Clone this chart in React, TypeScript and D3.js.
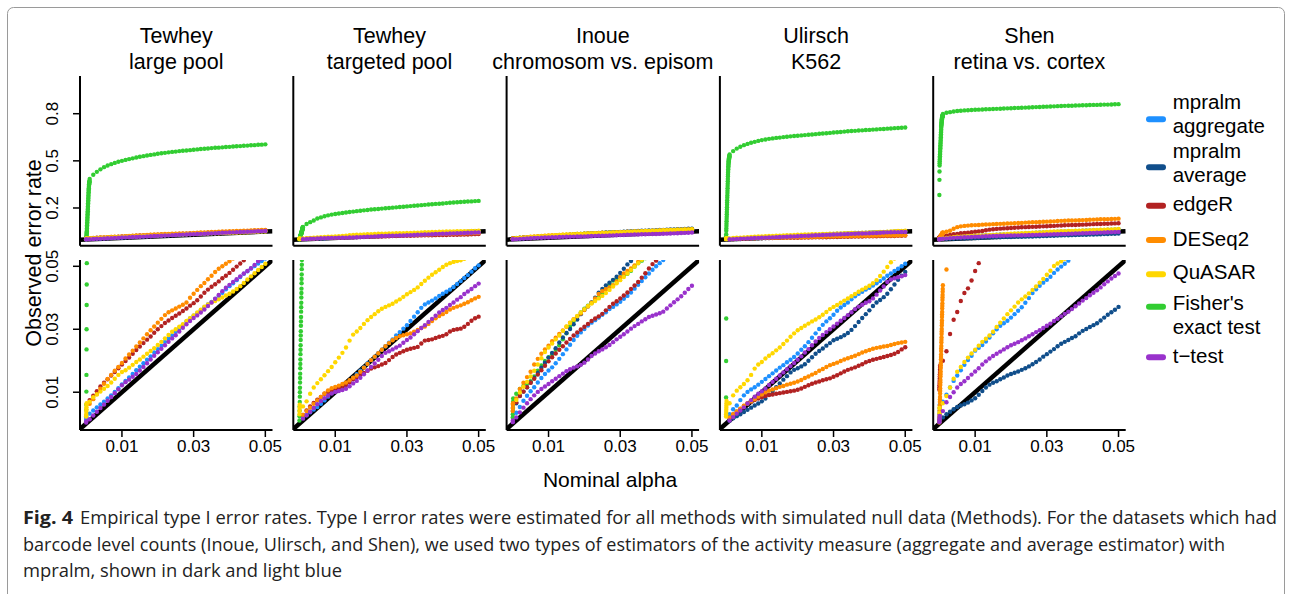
import React from "react";
import * as d3 from "d3";

// ---------- shared grids (nominal alpha) ----------
const alphaLow = [0.00002, 0.00004, 0.00006, 0.00008, 0.0001, 0.00012, 0.00014, 0.00016, 0.00018, 0.0002, 0.00022, 0.00024, 0.00026, 0.00028, 0.0003, 0.00032, 0.00034, 0.00036, 0.00038, 0.0004, 0.00042, 0.00044, 0.00046, 0.00048, 0.0005, 0.00052, 0.00054, 0.00056, 0.00058, 0.0006, 0.00062, 0.00064, 0.00066, 0.00068, 0.0007, 0.00072, 0.00074, 0.00076, 0.00078, 0.0008, 0.00082, 0.00084, 0.00086, 0.00088, 0.0009, 0.00092, 0.00094, 0.00096];
const alphaMain = [0.001, 0.002, 0.003, 0.004, 0.005, 0.006, 0.007, 0.008, 0.009, 0.01, 0.011, 0.012, 0.013, 0.014, 0.015, 0.016, 0.017, 0.018, 0.019, 0.02, 0.021, 0.022, 0.023, 0.024, 0.025, 0.026, 0.027, 0.028, 0.029, 0.03, 0.031, 0.032, 0.033, 0.034, 0.035, 0.036, 0.037, 0.038, 0.039, 0.04, 0.041, 0.042, 0.043, 0.044, 0.045, 0.046, 0.047, 0.048, 0.049, 0.05];

// ---------- observed error rates, in units of 1/1000 ----------
// Tewhey large pool
const tlAgg = [3.2,4.2,5.2,6.1,7.0,8.0,9.0,10.1,11.3,12.5,13.6,14.7,15.8,17.0,18.1,19.2,20.3,21.4,22.6,23.7,24.8,26.0,27.1,28.1,29.2,30.3,31.3,32.4,33.4,34.3,35.1,36.0,37.0,37.9,38.7,39.6,40.6,41.6,42.7,43.7,44.6,45.6,46.6,47.6,48.4,49.3,50.1,50.9,51.7,52.5];
const tlAggLow = [1.2, 2.0];
const tlEdgeR = [7.5,8.9,10.3,11.8,13.0,14.1,15.3,16.4,17.6,18.8,19.9,21.0,22.2,23.4,24.5,25.6,26.7,27.7,28.9,30.0,31.0,32.0,32.8,33.6,34.3,35.0,35.8,36.6,37.5,38.3,39.2,40.4,41.6,42.6,43.5,44.3,45.2,46.2,47.0,47.9,48.9,49.9,50.9,51.9,52.8,53.8,54.7,55.6,56.5,57.3];
const tlDESeq2 = [6.3,7.8,9.4,11.1,12.7,14.2,15.5,16.8,18.0,19.3,20.7,22.0,23.2,24.5,25.8,27.1,28.4,29.7,30.9,32.1,33.3,34.5,35.4,36.0,36.6,37.2,37.8,38.5,40.0,41.3,42.5,43.7,44.7,45.9,47.0,48.2,49.2,50.0,50.8,51.6,52.5,53.4,54.3,55.2,56.1,57.0,57.9,58.8,59.6,60.4];
const tlQuASAR = [7.0,8.4,9.3,10.2,11.1,12.0,13.1,14.3,15.5,16.4,17.0,17.8,18.7,19.6,20.4,21.3,22.2,23.1,24.0,25.0,26.0,27.1,28.2,29.2,30.0,30.8,31.6,32.6,33.5,34.4,35.3,36.2,37.2,37.9,38.5,39.0,39.5,40.1,40.7,41.3,42.0,42.8,43.7,44.7,45.8,46.8,47.8,48.8,49.8,50.8];
const tlQuASARLow = [2.3,3.0,3.8,4.5,5.2,6.0,6.5];
const tlFisher = [385,412,430,446,460,470,479,487,494,500,506,511,516,521,526,530,534,538,541,545,548,551,554,557,559,562,564,566,568,571,573,575,577,579,581,583,584,586,588,589,591,593,594,596,597,599,600,602,603,605];
const tlFisherLow = [2.3,4.4,6,10.2,15.5,23.6,30,37.7,44.2,51,60,70,80,90,100,110,120,130,140,150,160,170,180,190,200,210,220,230,240,250,260,270,280,290,300,310,318,326,333,340,346,351,355,359,363,366,369,372];
const tlTtest = [1.4,2.6,3.8,5.0,6.1,7.3,8.5,9.7,10.9,12.2,13.2,14.0,14.9,15.8,16.9,18.0,19.2,20.4,21.6,22.7,23.8,24.9,26.0,27.1,28.1,29.3,30.5,31.6,32.6,33.6,34.4,35.3,36.3,37.4,38.5,39.7,40.9,42.1,43.2,44.1,45.0,45.9,46.8,47.7,48.5,49.4,50.4,51.6,52.5,53.4];
const tlTtestLow = [0.4, 0.8];

// Tewhey targeted pool
const ttAgg = [1.8,2.7,3.6,4.5,5.3,6.3,7.4,8.6,9.7,10.3,10.9,11.5,12.2,13.4,14.6,15.7,16.8,17.9,19.1,20.2,21.3,22.4,23.5,24.6,25.7,26.8,28.0,29.1,30.2,31.3,32.6,34.0,35.4,36.8,37.9,38.5,39.1,39.8,40.6,41.3,41.9,42.6,43.4,44.4,45.3,46.3,47.2,48.3,49.4,50.3];
const ttEdgeR = [2.8,4.2,5.5,6.6,7.6,8.5,9.5,10.1,10.5,10.9,11.2,11.6,12.3,13.2,14.1,14.8,15.5,16.1,16.8,17.5,17.9,18.3,18.8,19.3,20.2,21.2,22.0,22.5,23.0,23.5,23.8,24.1,24.4,25.5,26.4,26.6,26.8,27.2,27.6,27.9,28.4,29.3,29.8,30.0,30.2,30.8,31.7,32.7,33.5,34.0];
const ttDESeq2 = [2.8,4.0,5.1,6.3,7.4,8.5,9.6,10.6,11.3,11.7,12.1,12.6,13.1,13.8,14.6,15.3,16.5,17.8,19.0,20.2,21.3,22.4,23.5,24.6,25.6,26.5,27.2,27.8,28.1,28.4,28.7,29.2,29.8,30.4,30.9,31.7,32.6,33.5,34.2,34.8,35.5,36.3,36.8,37.2,37.6,38.1,38.6,39.2,39.8,40.3];
const ttQuASAR = [5.5,7.1,9.5,11.5,12.9,14.1,15.4,16.7,18.0,19.5,21.0,22.5,24.2,26.4,28.3,29.3,30.4,31.7,32.9,33.9,34.8,35.7,36.5,37.1,37.6,38.1,38.8,39.5,40.3,41.1,41.8,42.5,43.3,44.4,45.4,46.4,47.3,48.1,48.9,49.8,50.5,51.0,51.4,51.7,51.9,52.4,53.0,53.7,54.4,55.0];
const ttQuASARLow = [3, 4, 5, 6];
const ttFisher = [80,98,110,120,133,140,147,153,158,162,165,168,171,174,177,180,182,185,187,190,192,194,196,198,200,202,204,206,208,210,212,214,216,218,220,222,224,226,227,229,231,233,235,237,238,240,241,242,244,245];
const ttFisherLow = [1,2.4,4.1,5.5,6.9,8.6,10,11.4,13.1,14.5,15.9,17.6,19,20.4,22.1,23.5,24.9,26.6,28,29.4,31.1,32.5,33.9,35.6,37,38.4,40.1,41.5,42.9,44.6,46,47.4,49.1,50.5,52,54,56,58,60,62,64,66,68,70,72,74,76,78];
const ttTtest = [1.6,2.7,3.8,5.0,6.2,7.2,8.1,8.9,9.6,10.1,10.4,10.7,11.1,11.9,12.8,13.6,14.6,15.7,16.9,18.0,19.1,20.3,21.5,22.5,23.0,23.6,24.2,24.8,25.7,26.6,27.4,28.4,29.4,30.4,31.3,32.3,33.3,34.3,35.3,36.1,36.8,37.7,38.5,39.4,40.2,41.2,42.0,42.8,43.7,44.5];

// Inoue chromosomal vs episomal
const inAgg = [3.5,5.3,7.3,8.9,10.3,11.6,13.1,14.5,15.8,16.9,17.9,19.2,20.6,22.1,23.6,25.1,26.6,27.9,29.0,30.1,31.2,32.1,32.9,33.7,34.6,35.4,36.4,37.1,37.9,38.7,39.7,40.6,41.7,42.9,44.1,45.3,46.5,47.7,48.9,50.0,51.0,52.0,52.9,53.8,54.7,55.6,56.5,57.4,58.2,59.0];
const inAvg = [6.5,8.8,10.2,11.6,13.1,14.6,16.2,17.8,19.4,21.0,22.5,24.0,25.8,27.4,28.8,30.1,31.6,33.1,34.8,36.2,37.3,38.5,40.0,41.6,42.8,43.9,44.8,45.7,46.7,47.9,49.2,50.6,51.7,52.8,53.8,54.8,55.8,56.8,57.8,58.8,59.8,60.8,61.8,62.8,63.8,64.8,65.8,66.8,67.8,68.8];
const inEdgeR = [6.8,8.9,10.2,11.6,13.0,14.3,15.6,17.0,18.4,19.8,21.1,22.3,23.5,24.6,25.8,26.9,28.0,29.0,29.9,30.8,31.7,32.6,33.4,34.1,34.9,36.0,37.1,38.1,38.9,39.8,40.7,41.7,42.8,43.9,45.0,46.4,47.8,49.3,50.7,51.8,52.8,53.8,54.8,55.8,56.7,57.6,58.5,59.4,60.3,61.2];
const inDESeq2 = [8.0,11.0,13.0,14.8,16.5,18.8,20.6,22.2,23.6,24.8,26.2,27.3,28.5,29.6,30.8,32.1,33.2,34.1,35.0,36.1,37.2,38.4,39.8,41.2,42.1,42.7,43.3,44.0,45.2,46.5,47.7,48.5,49.3,50.3,51.4,52.5,53.5,54.4,55.3,56.2,57.1,58.0,58.9,59.8,60.6,61.4,62.2,63.0,63.8,64.6];
const inDESeq2Low = [4, 5, 6, 6.5];
const inQuASAR = [7.5,9.9,11.7,13.3,15.0,16.8,18.8,20.8,22.8,24.2,25.5,26.8,28.0,29.5,30.9,32.0,33.1,34.2,35.3,36.4,37.4,38.2,39.0,39.8,40.6,41.5,42.5,43.6,44.6,45.6,46.6,47.7,48.8,49.9,51.0,52.1,53.1,54.1,55.1,56.1,57.0,57.9,58.8,59.7,60.6,61.5,62.4,63.3,64.2,65.1];
const inFisher = [9.5,11.0,12.0,12.8,13.5,15.0,16.8,18.5,19.9,21.1,22.1,23.5,24.9,26.8,28.7,30.8,32.6,34.0,35.3,36.5,37.5,38.4,39.3,40.1,41.3,42.8,44.3,45.5,46.1,46.6,47.1,47.6,48.6,49.9,51.0,51.8,52.6,53.4,54.3,55.2,56.1,57.1,58.1,59.1,60.1,61.2,62.4,63.7,65.0,66.5];
const inFisherLow = [2, 3, 4, 5, 6, 7, 8];
const inTtest = [2.0,3.6,5.1,6.5,7.8,9.0,10.1,11.0,11.8,12.6,13.5,14.3,15.1,15.9,16.7,17.3,17.8,18.2,18.7,19.4,20.4,21.5,22.3,23.0,23.6,24.3,25.0,25.9,26.8,27.6,28.4,29.3,30.2,31.0,31.7,32.5,33.2,33.9,34.3,34.7,35.1,35.6,36.6,37.6,38.6,39.5,40.5,41.6,42.8,43.8];
const inTtestLow = [0.5, 1];

// Ulirsch K562
const ulAgg = [3.0,4.6,5.8,7.5,9.0,10.1,10.9,11.6,12.4,13.3,14.2,15.1,16.0,16.9,17.8,18.6,19.5,20.3,21.2,22.3,23.5,24.6,25.9,27.3,28.7,30.1,31.4,32.5,33.5,34.6,35.9,36.9,37.7,38.5,39.5,40.5,41.3,41.9,42.6,43.2,43.9,44.6,45.3,46.1,47.0,47.7,48.5,49.2,50.0,50.8];
const ulAvg = [0.9,1.7,2.4,3.0,3.7,4.4,5.1,5.8,6.4,7.1,8.0,9.2,10.4,11.6,12.8,14.0,15.1,16.3,17.1,17.6,18.2,18.9,20.0,21.1,22.2,23.1,23.9,24.8,25.6,26.5,27.0,27.5,28.1,28.8,29.8,31.0,32.3,33.6,34.8,36.0,37.4,38.5,39.3,40.2,41.3,42.7,44.2,45.7,47.0,48.2];
const ulEdgeR = [1.8,2.9,3.8,4.7,5.6,6.4,7.0,7.5,8.0,8.4,8.8,9.1,9.3,9.5,9.7,9.9,10.1,10.3,10.5,10.8,11.2,11.7,12.2,12.7,13.1,13.4,13.8,14.1,14.4,14.9,15.4,16.0,16.6,17.1,17.5,17.9,18.4,18.9,19.5,19.9,20.3,20.6,20.9,21.2,21.5,21.8,22.2,22.8,23.6,24.3];
const ulDESeq2 = [2.0,3.0,3.9,4.8,5.7,6.4,7.1,7.8,8.6,9.3,10.0,10.5,10.9,11.3,11.7,12.0,12.4,12.7,13.0,13.4,13.9,14.5,15.0,15.6,16.1,16.8,17.4,18.0,18.6,19.0,19.4,19.9,20.4,20.8,21.2,21.6,22.1,22.6,23.0,23.4,23.8,24.1,24.3,24.5,24.7,25.0,25.3,25.6,25.8,26.0];
const ulQuASAR = [6.5,9.0,10.5,11.6,12.6,13.8,15.5,17.5,18.8,19.6,20.7,21.6,22.4,23.3,24.2,25.3,26.4,27.6,28.7,29.7,30.4,31.1,31.8,32.5,33.1,33.8,34.6,35.5,36.4,37.1,37.7,38.4,39.1,39.8,40.5,41.2,41.9,42.6,43.2,43.8,44.6,45.6,46.9,48.3,49.8,51.3,52.5,53.6,54.6,55.6];
const ulQuASARLow = [2.3, 3.0, 3.7, 4.4, 5.1, 5.8, 6.5, 7.2];
const ulFisher = [540,562,578,590,600,608,615,621,627,632,636,640,643,646,648,651,653,656,658,660,662,664,666,668,670,672,674,676,678,680,682,684,686,688,690,691,693,694,696,697,699,700,702,703,705,706,708,709,711,712];
const ulFisherLow = [8.3,19.9,33.4,55,70,85,100,115,130,145,160,175,190,205,220,235,250,265,280,295,310,325,340,355,370,385,400,412,424,436,446,456,465,473,480,486,492,497,502,506,510,514,517,520,523,526,529,532];
const ulTtest = [1.0,2.1,3.2,4.2,5.2,6.4,7.5,8.6,9.5,10.3,11.2,12.3,13.3,14.3,15.3,16.3,17.3,18.3,19.3,20.3,21.4,22.6,23.7,24.9,26.1,27.2,28.2,29.1,30.0,30.9,31.8,32.7,33.6,34.5,35.4,36.4,37.2,37.8,38.4,38.9,39.8,41.0,42.3,43.6,45.0,45.8,46.2,46.5,46.8,47.2];

// Shen retina vs. cortex
const shAgg = [7.0,9.2,11.5,13.6,15.3,17.0,18.7,20.2,21.6,23.2,24.1,25.0,26.1,27.4,28.7,30.0,31.1,31.9,32.7,33.7,34.8,35.9,37.0,38.4,39.9,41.5,42.7,43.8,44.8,45.7,46.7,47.9,49.0,49.9,50.8,51.8,52.7,53.6,54.5,55.4,56.3,57.2,58.1,59.0,59.9,60.8,61.7,62.6,63.5,64.4];
const shAggLow = [1, 2, 3, 4, 5, 6];
const shAvg = [2.0,3.0,3.8,4.6,5.3,5.8,6.2,6.7,7.4,8.1,9.2,10.4,11.5,12.4,13.0,13.5,14.1,14.7,15.3,15.8,16.2,16.6,17.1,17.6,18.2,18.9,19.6,20.4,21.3,22.1,22.9,23.7,24.6,25.4,26.0,26.6,27.2,27.8,28.7,29.5,30.1,30.7,31.3,31.9,32.8,33.7,34.6,35.4,36.2,37.1];
const shAvgLow = [0.5, 1, 1.5];
const shEdgeR = [20,23,28.5,33,35.5,39,41.5,43,45.5,48.5,51,54,58,62,65,67,68.5,70,71.5,73,74,75.5,77,78,79,80,81,82,83,84,85,86,88,89,90,91,91.5,92,93,94,95,96,97,98,98.5,99.5,100,101,102,103];
const shEdgeRLow = [10.8,11.5,12.2,12.9,13.6,14.3,15,15.7,16.4,17.1,17.8,18.5];
const shDESeq2 = [44,49,55,68,78,83,86,88,90,91,92,94,95,96,97,98,99,100,101,102,103,104,105,107,108,109,110,111,112,113,114,115,117,118,119,120,120,121,122,123,124,125,126,127,128,128,129,130,131,132];
const shDESeq2Low = [0.4,1.2,2.3,3.1,4.2,5.0,5.8,6.9,7.7,8.5,9.6,10.4,11.2,12.3,13.1,13.9,15.0,15.8,16.6,17.7,18.5,19.3,20.4,21.2,22.0,23.1,23.9,24.7,25.8,26.6,27.4,28.5,29.3,30.1,31.2,32.0,32.8,33.9,34.7,35.5,36.6,37.4,38.2,39.3,40.1,40.9,41.9,42.8];
const shQuASAR = [6.5,8.8,11.5,14.3,16.5,18.0,19.6,21.0,22.3,23.5,24.8,26.0,27.0,28.0,29.2,30.7,32.1,33.4,34.8,36.0,37.2,38.5,39.5,40.4,41.4,42.5,43.6,44.8,46.0,47.3,48.6,50.1,50.9,51.6,52.4,53.3,54.2,55.1,56.0,56.9,57.8,58.7,59.6,60.5,61.4,62.3,63.2,64.1,65.0,65.9];
const shQuASARLow = [2, 3.5, 5];
const shFisher = [798,806,810,814,817,819,821,822,824,825,826,827,828,829,830,831,832,833,834,835,836,837,838,839,840,841,842,843,844,845,846,847,848,849,850,851,851,852,853,854,854,855,856,856,857,858,858,859,860,861];
const shFisherLow = [283,379,432,470,485,497,509,520,530,540,550,560,570,580,590,600,610,620,630,640,650,660,670,680,690,700,710,718,726,733,740,746,751,756,760,764,767,770,773,776,778,780,782,784,786,788,790,792];
const shTtest = [4.0,6.8,8.5,10.0,11.5,12.6,13.5,14.5,15.6,16.6,17.6,18.8,19.8,20.7,21.5,22.2,22.9,23.6,24.3,24.9,25.4,25.9,26.5,27.1,27.8,28.4,29.1,29.7,30.4,31.1,31.8,32.6,33.3,34.1,34.9,35.6,36.4,37.3,38.2,39.1,39.9,40.8,41.6,42.4,43.3,44.3,45.2,46.1,46.9,47.7];
const shTtestLow = [0.5, 1, 1.5, 2, 2.5];

// ---------- labels ----------
const panelTitles = [
  ["Tewhey", "large pool"],
  ["Tewhey", "targeted pool"],
  ["Inoue", "chromosom vs. episom"],
  ["Ulirsch", "K562"],
  ["Shen", "retina vs. cortex"],
];
const methodKeys = ["agg", "avg", "edgeR", "DESeq2", "QuASAR", "Fisher", "ttest"];
const methodColors = ["#1E90FF", "#104E8B", "#B22222", "#FF8C00", "#FFD700", "#32CD32", "#9932CC"];
const legendLabels = [["mpralm", "aggregate"], ["mpralm", "average"], ["edgeR"], ["DESeq2"], ["QuASAR"], ["Fisher's", "exact test"], ["t\u2212test"]];
const topYTicks = [0.2, 0.5, 0.8];
const topYTickLabels = ["0.2", "0.5", "0.8"];
const botTicks = [0.01, 0.03, 0.05];
const botTickLabels = ["0.01", "0.03", "0.05"];
const drawOrder = ["Fisher", "agg", "avg", "edgeR", "DESeq2", "QuASAR", "ttest"];

type S = [string, number[], number[]];
const panelSeries: S[][] = [
  [["Fisher", tlFisher, tlFisherLow], ["agg", tlAgg, tlAggLow], ["edgeR", tlEdgeR, []], ["DESeq2", tlDESeq2, []], ["QuASAR", tlQuASAR, tlQuASARLow], ["ttest", tlTtest, tlTtestLow]],
  [["Fisher", ttFisher, ttFisherLow], ["agg", ttAgg, []], ["edgeR", ttEdgeR, []], ["DESeq2", ttDESeq2, []], ["QuASAR", ttQuASAR, ttQuASARLow], ["ttest", ttTtest, []]],
  [["Fisher", inFisher, inFisherLow], ["agg", inAgg, []], ["avg", inAvg, []], ["edgeR", inEdgeR, []], ["DESeq2", inDESeq2, inDESeq2Low], ["QuASAR", inQuASAR, []], ["ttest", inTtest, inTtestLow]],
  [["Fisher", ulFisher, ulFisherLow], ["agg", ulAgg, []], ["avg", ulAvg, []], ["edgeR", ulEdgeR, []], ["DESeq2", ulDESeq2, []], ["QuASAR", ulQuASAR, ulQuASARLow], ["ttest", ulTtest, []]],
  [["Fisher", shFisher, shFisherLow], ["agg", shAgg, shAggLow], ["avg", shAvg, shAvgLow], ["edgeR", shEdgeR, shEdgeRLow], ["DESeq2", shDESeq2, shDESeq2Low], ["QuASAR", shQuASAR, shQuASARLow], ["ttest", shTtest, shTtestLow]],
];

const captionLines = [
  "Empirical type I error rates. Type I error rates were estimated for all methods with simulated null data (Methods). For the datasets which had",
  "barcode level counts (Inoue, Ulirsch, and Shen), we used two types of estimators of the activity measure (aggregate and average estimator) with",
  "mpralm, shown in dark and light blue",
];

// ---------- layout ----------
const FONT = "'Liberation Sans', Arial, Helvetica, sans-serif";
const LEFT0 = 80;
const STEP = 213.3;
const PW = 192.5;
const TOP_Y0 = 76, TOP_Y1 = 245.7;
const BOT_Y0 = 260, BOT_Y1 = 430;
const R = 2.2;

export default function App() {
  const yTop = d3.scaleLinear().domain([-0.04, 1.04]).range([TOP_Y1, TOP_Y0]);
  const yBot = d3.scaleLinear().domain([-0.002, 0.052]).range([BOT_Y1, BOT_Y0]);
  const colorOf = (k: string) => methodColors[methodKeys.indexOf(k)];

  const legendY = [[109, 133], [157.5, 182], [210.7], [245.7], [279.3], [310, 334], [362.7]];
  const swatchY = [119.3, 167.3, 205.7, 240, 274.3, 306.7, 357.3];

  return (
    <svg width={1292} height={594} style={{ position: "absolute", left: 0, top: 0, background: "#fff" }} fontFamily={FONT}>
      <rect x={7.5} y={7.5} width={1277} height={640} rx={6} fill="#fff" stroke="#9a9a9a" strokeWidth={1} />
      <defs>
        {panelTitles.map((_, i) => {
          const left = LEFT0 + STEP * i;
          return (
            <React.Fragment key={i}>
              <clipPath id={`ct${i}`}><rect x={left} y={TOP_Y0} width={PW} height={TOP_Y1 - TOP_Y0} /></clipPath>
              <clipPath id={`cb${i}`}><rect x={left} y={BOT_Y0} width={PW} height={BOT_Y1 - BOT_Y0} /></clipPath>
            </React.Fragment>
          );
        })}
      </defs>

      {panelTitles.map((title, i) => {
        const left = LEFT0 + STEP * i;
        const x = d3.scaleLinear().domain([-0.0017, 0.052]).range([left, left + PW]);
        const series = [...panelSeries[i]].sort((a, b) => drawOrder.indexOf(a[0]) - drawOrder.indexOf(b[0]));
        const pts = series.map(([k, main, low]) => ({
          color: colorOf(k),
          p: [
            ...low.map((v, j) => ({ a: alphaLow[j], v: v / 1000 })),
            ...main.map((v, j) => ({ a: alphaMain[j], v: v / 1000 })),
          ],
        }));
        const cx = left + PW / 2;
        return (
          <g key={i}>
            <text x={cx} y={43} textAnchor="middle" fontSize={21.5}>{title[0]}</text>
            <text x={cx} y={69} textAnchor="middle" fontSize={21.5}>{title[1]}</text>

            {/* top panel */}
            <g clipPath={`url(#ct${i})`}>
              <line x1={x(-0.0017)} y1={yTop(-0.0017)} x2={x(0.052)} y2={yTop(0.052)} stroke="#000" strokeWidth={4.5} />
              {pts.map((s, si) => (
                <g key={si} fill={s.color}>
                  {s.p.map((d, j) => <circle key={j} cx={x(d.a)} cy={yTop(d.v)} r={R} />)}
                </g>
              ))}
            </g>
            <line x1={left} y1={TOP_Y0} x2={left} y2={TOP_Y1} stroke="#000" strokeWidth={2} />
            <line x1={left} y1={TOP_Y1} x2={left + PW} y2={TOP_Y1} stroke="#000" strokeWidth={2} />

            {/* bottom panel */}
            <g clipPath={`url(#cb${i})`}>
              <line x1={x(-0.0017)} y1={yBot(-0.0017)} x2={x(0.052)} y2={yBot(0.052)} stroke="#000" strokeWidth={4.5} />
              {pts.map((s, si) => (
                <g key={si} fill={s.color}>
                  {s.p.map((d, j) => <circle key={j} cx={x(d.a)} cy={yBot(d.v)} r={R} />)}
                </g>
              ))}
            </g>
            <line x1={left} y1={BOT_Y0} x2={left} y2={BOT_Y1} stroke="#000" strokeWidth={2} />
            <line x1={left} y1={BOT_Y1} x2={left + PW} y2={BOT_Y1} stroke="#000" strokeWidth={2} />
            {botTicks.map((t, j) => (
              <g key={j}>
                <line x1={x(t)} y1={BOT_Y1} x2={x(t)} y2={BOT_Y1 + 7} stroke="#000" strokeWidth={1.5} />
                <text x={x(t)} y={BOT_Y1 + 22} textAnchor="middle" fontSize={17}>{botTickLabels[j]}</text>
              </g>
            ))}

            {i === 0 && (
              <g>
                {topYTicks.map((t, j) => (
                  <g key={j}>
                    <line x1={left - 7} y1={yTop(t)} x2={left} y2={yTop(t)} stroke="#000" strokeWidth={1.5} />
                    <text transform={`translate(${left - 22},${yTop(t)}) rotate(-90)`} textAnchor="middle" fontSize={17}>{topYTickLabels[j]}</text>
                  </g>
                ))}
                {botTicks.map((t, j) => (
                  <g key={j}>
                    <line x1={left - 7} y1={yBot(t)} x2={left} y2={yBot(t)} stroke="#000" strokeWidth={1.5} />
                    <text transform={`translate(${left - 22},${yBot(t)}) rotate(-90)`} textAnchor="middle" fontSize={17}>{botTickLabels[j]}</text>
                  </g>
                ))}
              </g>
            )}
          </g>
        );
      })}

      <text transform={`translate(41,253) rotate(-90)`} textAnchor="middle" fontSize={21.5}>Observed error rate</text>
      <text x={610} y={487} textAnchor="middle" fontSize={21}>Nominal alpha</text>

      {legendLabels.map((lines, i) => (
        <g key={i}>
          <line x1={1149} x2={1163} y1={swatchY[i]} y2={swatchY[i]} stroke={methodColors[i]} strokeWidth={6} strokeLinecap="round" />
          {lines.map((t, j) => (
            <text key={j} x={1172.7} y={legendY[i][j]} fontSize={20.5}>{t}</text>
          ))}
        </g>
      ))}

      <g fontFamily="'Open Sans', 'Noto Sans', sans-serif" fontSize={17.5} fill="#222">
        <text x={23} y={524} fontWeight="bold" textLength={50} lengthAdjust="spacingAndGlyphs">Fig. 4</text>
        <text x={80} y={524} textLength={1197} lengthAdjust="spacingAndGlyphs">{captionLines[0]}</text>
        <text x={23} y={551} textLength={1202} lengthAdjust="spacingAndGlyphs">{captionLines[1]}</text>
        <text x={23} y={577} textLength={319} lengthAdjust="spacingAndGlyphs">{captionLines[2]}</text>
      </g>
    </svg>
  );
}
